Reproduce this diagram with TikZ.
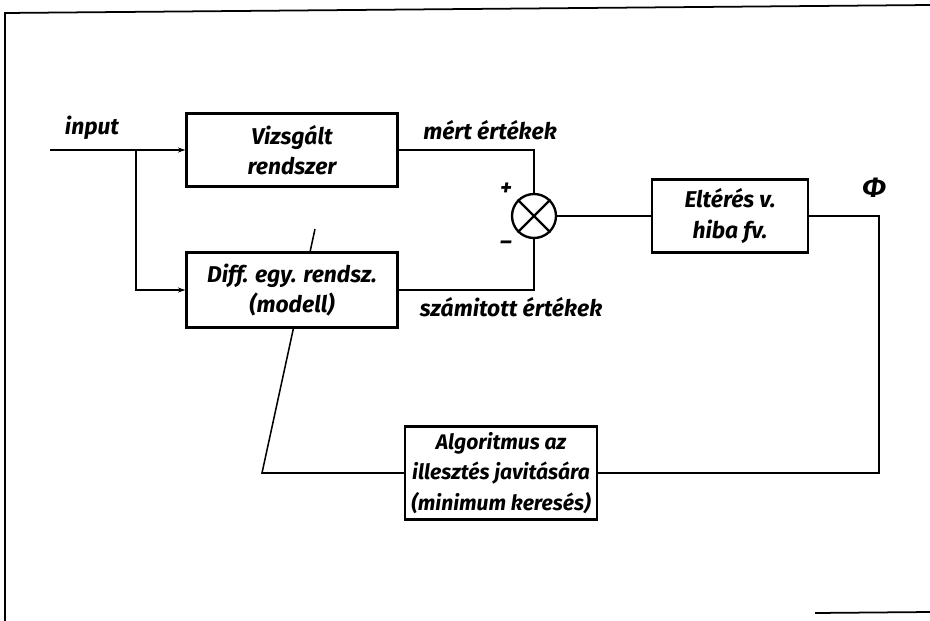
\documentclass[tikz,border=0pt]{standalone}
\usepackage{fontspec}
\setmainfont{Fira Sans}
\usetikzlibrary{arrows.meta,positioning,calc,backgrounds}

\begin{document}
\begin{tikzpicture}[
    x=0.3mm, y=-0.3mm,
    every node/.style={font=\fontsize{19.5}{26}\selectfont\bfseries\itshape},
    block/.style={rectangle, draw, line width=2pt, fill=white, align=center, inner sep=1pt},
    sumnode/.style={circle, draw, line width=2pt, minimum size=13.2mm, inner sep=0pt},
    wire/.style={line width=1.3pt},
    arrow/.style={wire, -{Stealth[length=2.2mm,width=1.5mm]}},
    ]
    \useasboundingbox (0,0) rectangle (930,621);
    % frame of the scanned page
    \draw[line width=1.5pt] (5,621) -- (5,13) -- (930,5);
    \draw[line width=1.5pt] (815,613) -- (930,612);
    % Blocks
    \node[block, minimum width=63.3mm, minimum height=21.9mm] (vs)   at (292,150) {Vizsgált\\rendszer};
    \node[block, minimum width=63.3mm, minimum height=22.5mm] (diff) at (292,290) {Diff. egy. rendsz.\\(modell)};
    \node[sumnode] (sum) at (534,216) {};
    \node[block, minimum width=46.8mm, minimum height=21.9mm] (elt)  at (730,216) {Eltérés v.\\hiba fv.};
    \node[block, minimum width=57.6mm, minimum height=27.9mm,
          font=\fontsize{18}{26}\selectfont\bfseries\itshape] (alg) at (501,473) {Algoritmus az\\illesztés javitására\\(minimum keresés)};
    % cross in the summing point
    \draw[line width=2pt] (sum.north west) -- (sum.south east);
    \draw[line width=2pt] (sum.north east) -- (sum.south west);
    % Labels
    \node (inlbl) at (92,128) {input};
    \node (mert)  at (490,130) {mért értékek};
    \node (szam)  at (511,307) {számitott értékek};
    \node (plus)  at (506,189) {+};
    \node (minus) at (506,245) {--};
    \node[font=\fontsize{24}{26}\selectfont\bfseries\itshape] (phi) at (874,188) {Φ};
    % Connectors
    \coordinate (in)   at (50,150);
    \coordinate (br)   at (136,150);
    \coordinate (knee) at (262,473);
    \coordinate (tip)  at (315,229);
    \draw[arrow] (in) -- (vs);
    \draw[arrow] (br) |- (diff);
    \draw[wire] (vs.east) -| (sum.north);
    \draw[wire] (diff.east) -| (sum.south);
    \draw[wire] (sum) -- (elt);
    \draw[wire] (elt.east) -- ++(70,0) |- (alg.east);
    \begin{scope}[on background layer]
    \draw[wire] (alg.west) -- (knee) -- (tip);
    \end{scope}
\end{tikzpicture}
\end{document}
